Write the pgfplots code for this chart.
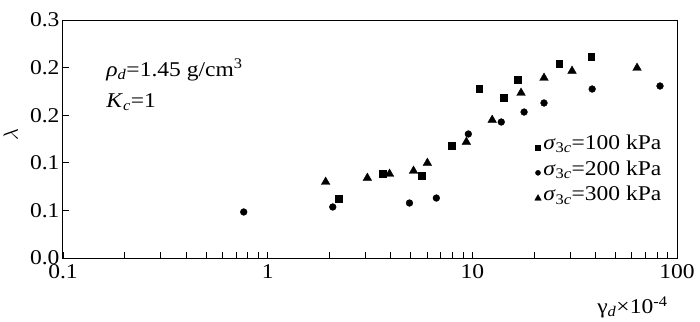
\documentclass[border=0pt]{standalone}
\usepackage{fontspec}
\setmainfont{Liberation Serif}[FakeStretch=1.12]
\usepackage{pgfplots}
\pgfplotsset{compat=1.18}
\pgfplotstableread{
x y
2.22 0.0744
3.64 0.1059
5.64 0.1034
7.90 0.1412
10.8 0.2130
14.2 0.2017
16.6 0.2244
26.6 0.2445
38.1 0.2534
}\sqdata
\pgfplotstableread{
x y
0.764 0.0580
2.08 0.0643
4.93 0.0693
6.67 0.0756
9.56 0.1563
13.85 0.1714
17.9 0.1840
22.4 0.1954
38.5 0.2130
82.6 0.2168
}\circdata
\pgfplotstableread{
x y
1.92 0.0958
3.07 0.1008
3.94 0.1059
5.16 0.1097
6.03 0.1197
9.35 0.1462
12.5 0.1739
17.3 0.2080
22.4 0.2269
30.7 0.2357
63.8 0.2395
}\tridata
\begin{document}
\begin{tikzpicture}[font=\fontsize{21bp}{25bp}\selectfont]
\useasboundingbox (-63bp,-64bp) rectangle (637bp,258bp);
\begin{axis}[at={(0bp,0bp)}, anchor=south west, scale only axis,
  width=614bp, height=238bp, clip=false,
  xmode=log, xmin=0.1, xmax=100, ymin=0, ymax=0.3,
  xtick={0.1,1,10,100}, xticklabels={0.1,1,10,100},
  minor xtick={0.2,0.3,0.4,0.5,0.6,0.7,0.8,0.9,2,3,4,5,6,7,8,9,20,30,40,50,60,70,80,90},
  ytick={0,0.06,0.12,0.18,0.24,0.3}, yticklabels={0.0,0.1,0.1,0.2,0.2,0.3},
  tick pos=left, tick align=inside,
  major tick length=6bp, minor tick length=6bp,
  tick style={black, line width=0.8pt},
  axis line style={line width=1pt},
  xticklabel style={yshift=-3bp},
  yticklabel style={xshift=0bp},
  ylabel={$\lambda$}, ylabel style={at={(axis description cs:-0.085,0.52)}, anchor=center},
  legend style={at={(axis description cs:0.768,0.525)}, anchor=north west,
    draw=none, fill=none, inner sep=0pt, row sep=5.5bp},
  legend cell align=left,
  legend image code/.code={\draw[#1, mark options={scale=0.75}] plot coordinates {(2bp,-4bp)};},
]
\addplot[only marks, mark=square*, mark size=3.4bp, black] table {\sqdata};
\addlegendentry{\textit{σ}\textsubscript{3\textit{c}}=100 kPa}
\addplot[only marks, mark=*, mark size=3.4bp, black] table {\circdata};
\addlegendentry{\textit{σ}\textsubscript{3\textit{c}}=200 kPa}
\addplot[only marks, mark=triangle*, mark size=5bp, black] table {\tridata};
\addlegendentry{\textit{σ}\textsubscript{3\textit{c}}=300 kPa}
\node[anchor=west] at (rel axis cs:0.065,0.79) {\textit{ρ}\textsubscript{\textit{d}}=1.45 g/cm\textsuperscript{3}};
\node[anchor=west] at (rel axis cs:0.065,0.655) {\textit{K}\textsubscript{\textit{c}}=1};
\node[anchor=north east] at (rel axis cs:1,0) [yshift=-35bp, xshift=-6bp] {γ\textsubscript{\textit{d}}×10\textsuperscript{-4}};
\end{axis}
\end{tikzpicture}
\end{document}
